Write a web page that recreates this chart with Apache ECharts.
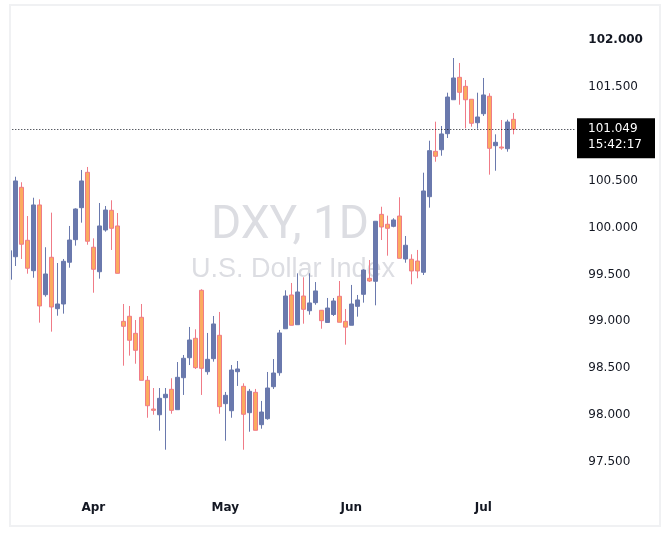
<!DOCTYPE html>
<html><head><meta charset="utf-8">
<script src="https://cdn.jsdelivr.net/npm/echarts@6/dist/echarts.min.js"></script>
<style>html,body{margin:0;padding:0;background:#fff}#c{width:670px;height:543px}</style>
</head><body><div id="c"></div>
<script>
// ---- data ----
const openPrices = [99.448,99.689,100.429,99.864,99.540,100.241,99.284,99.683,99.135,99.185,
  99.630,99.871,100.212,100.589,99.790,99.529,99.974,100.184,100.017,99.000,
  99.054,98.872,99.043,98.371,98.065,98.004,98.186,98.275,98.058,98.399,
  98.612,98.819,99.331,98.463,98.602,98.851,98.122,98.047,98.463,98.307,
  98.026,98.243,97.898,97.962,98.303,98.452,98.921,99.281,98.964,99.270,
  99.113,99.199,99.118,98.988,99.073,99.267,99.000,98.958,99.160,99.288,
  99.459,99.427,100.141,100.035,100.013,100.123,99.665,99.662,99.643,99.523,
  100.329,100.813,100.830,101.001,101.363,101.602,101.506,101.368,101.118,101.214,
  101.400,100.873,100.859,100.841,101.154];
const closePrices = [99.753,100.497,99.822,99.566,100.241,99.164,99.505,99.153,99.185,99.640,
  99.867,100.198,100.497,99.854,99.555,100.017,100.187,99.992,99.512,98.947,
  98.798,98.691,98.371,98.100,98.051,98.179,98.222,98.051,98.403,98.606,
  98.801,98.506,98.499,98.595,98.972,98.090,98.211,98.481,98.492,98.009,
  98.254,97.838,98.033,98.289,98.449,98.876,99.270,98.958,99.313,99.128,
  99.196,99.324,99.007,99.142,99.217,98.990,98.938,99.185,99.228,99.547,
  99.430,100.067,100.006,99.992,100.081,99.672,99.811,99.537,99.537,100.390,
  100.820,100.760,100.998,101.392,101.595,101.442,101.363,101.112,101.179,101.414,
  100.845,100.909,100.848,101.126,101.049];
const lowPrices = [99.448,99.590,99.665,99.508,99.465,98.986,99.263,98.890,99.060,99.082,
  99.572,99.807,100.052,99.817,99.305,99.455,99.956,99.761,99.512,98.527,
  98.634,98.548,98.371,97.972,98.004,97.834,97.631,98.015,98.058,98.215,
  98.534,98.492,98.215,98.431,98.570,98.015,97.727,97.972,98.311,97.631,
  97.823,97.838,97.855,97.951,98.279,98.420,98.921,98.958,98.964,98.975,
  99.071,99.177,98.921,98.988,99.057,98.990,98.751,98.958,99.050,99.199,
  99.420,99.171,99.867,99.700,100.003,99.672,99.625,99.395,99.459,99.494,
  100.212,100.702,100.766,100.955,101.363,101.310,101.058,101.076,101.054,101.190,
  100.564,100.606,100.830,100.809,100.994];
const highPrices = [99.753,100.542,100.483,100.123,100.318,100.301,99.790,100.159,99.622,99.665,
  100.017,100.205,100.614,100.646,99.885,100.262,100.230,100.291,100.155,99.185,
  99.164,99.014,99.185,98.417,98.289,98.289,98.289,98.393,98.566,98.641,
  98.940,98.915,99.342,98.876,99.057,99.100,98.247,98.534,98.577,98.339,
  98.279,98.279,98.151,98.460,98.598,98.908,99.331,99.409,99.512,99.470,
  99.512,99.419,99.121,99.249,99.249,99.430,99.132,99.388,99.281,99.555,
  99.654,100.067,100.222,100.127,100.099,100.323,99.910,99.715,99.761,100.585,
  100.926,101.129,101.083,101.438,101.808,101.755,101.573,101.368,101.438,101.595,
  101.432,100.994,101.147,101.150,101.222];
const monthLabels = ['Apr','May','Jun','Jul'];
const monthIndex = [14,36,57,79];
const slotCount = 95;
const priceMin = 97.5, priceMax = 102, priceStep = 0.5;
const hiddenTicks = [101];
const boldTicks = [102];
const lastPrice = 101.049;
const lastTime = '15:42:17';
const titleText = 'DXY, 1D';
const subtitleText = 'U.S. Dollar Index';

const categories = Array.from({length: slotCount}, (_, i) => 'd' + i);
const candleData = openPrices.map((o, i) => [o, closePrices[i], lowPrices[i], highPrices[i]]);

const chart = echarts.init(document.getElementById('c'), null, {renderer: 'canvas'});
const gridRight = 93.7;
chart.setOption({
  animation: false,
  backgroundColor: '#ffffff',
  grid: {left: 6.3, right: gridRight, top: 40, bottom: 81},
  xAxis: {
    type: 'category', data: categories, boundaryGap: true,
    axisLine: {show: false}, axisTick: {show: false}, splitLine: {show: false},
    axisLabel: {
      interval: (i) => monthIndex.includes(i),
      formatter: (v, i) => { const k = monthIndex.indexOf(i); return k >= 0 ? monthLabels[k] : ''; },
      margin: 40, color: '#131722', fontFamily: 'DejaVu Sans', fontSize: 12, fontWeight: 'bold'
    }
  },
  yAxis: {
    type: 'value', position: 'right', min: priceMin, max: priceMax, interval: priceStep, scale: true,
    axisLine: {show: false}, axisTick: {show: false}, splitLine: {show: false},
    axisLabel: {
      margin: 12, align: 'left', color: '#131722', fontFamily: 'DejaVu Sans', fontSize: 12,
      formatter: (v) => {
        if (hiddenTicks.some(t => Math.abs(t - v) < 1e-6)) return '';
        const s = v.toFixed(3);
        return boldTicks.some(t => Math.abs(t - v) < 1e-6) ? '{b|' + s + '}' : s;
      },
      rich: {b: {fontWeight: 'bold', fontFamily: 'DejaVu Sans', fontSize: 12, color: '#131722'}}
    }
  },
  series: [{
    type: 'candlestick', data: candleData, barWidth: 4, z: 2,
    itemStyle: {color: '#6a79ad', color0: '#fbab5f', borderColor: '#6a79ad', borderColor0: '#f07b87', borderWidth: 1},
    markLine: {
      silent: true, symbol: ['none', 'none'], animation: false,
      data: [{yAxis: lastPrice}],
      label: {show: false},
      lineStyle: {color: '#131722', type: [1, 2], width: 1}
    }
  }]
});

const py = chart.convertToPixel({yAxisIndex: 0}, lastPrice);
const boxX = 670 - gridRight + 0.7;
chart.setOption({
  graphic: [
    {type: 'text', z: 0, style: {x: 290, y: 226, text: titleText, font: '46px Roboto', fill: '#dcdde2', textAlign: 'center', textVerticalAlign: 'middle'}},
    {type: 'text', z: 0, style: {x: 293, y: 270, text: subtitleText, font: '27px "Liberation Sans"', fill: '#dcdde2', textAlign: 'center', textVerticalAlign: 'middle'}},
    {type: 'rect', z: 100, shape: {x: 0, y: 0, width: 9, height: 543}, style: {fill: '#ffffff'}},
    {type: 'rect', z: 101, shape: {x: 10, y: 5, width: 650, height: 521}, style: {fill: 'none', stroke: '#f0f1f3', lineWidth: 2}},
    {type: 'rect', z: 102, shape: {x: boxX, y: py - 11, width: 78, height: 40}, style: {fill: '#000000'}},
    {type: 'text', z: 103, style: {x: boxX + 11, y: py, text: lastPrice.toFixed(3), font: '12px "DejaVu Sans"', fill: '#ffffff', textVerticalAlign: 'middle'}},
    {type: 'text', z: 103, style: {x: boxX + 11, y: py + 16, text: lastTime, font: '12px "DejaVu Sans"', fill: '#ffffff', textVerticalAlign: 'middle'}}
  ]
});
</script></body></html>
